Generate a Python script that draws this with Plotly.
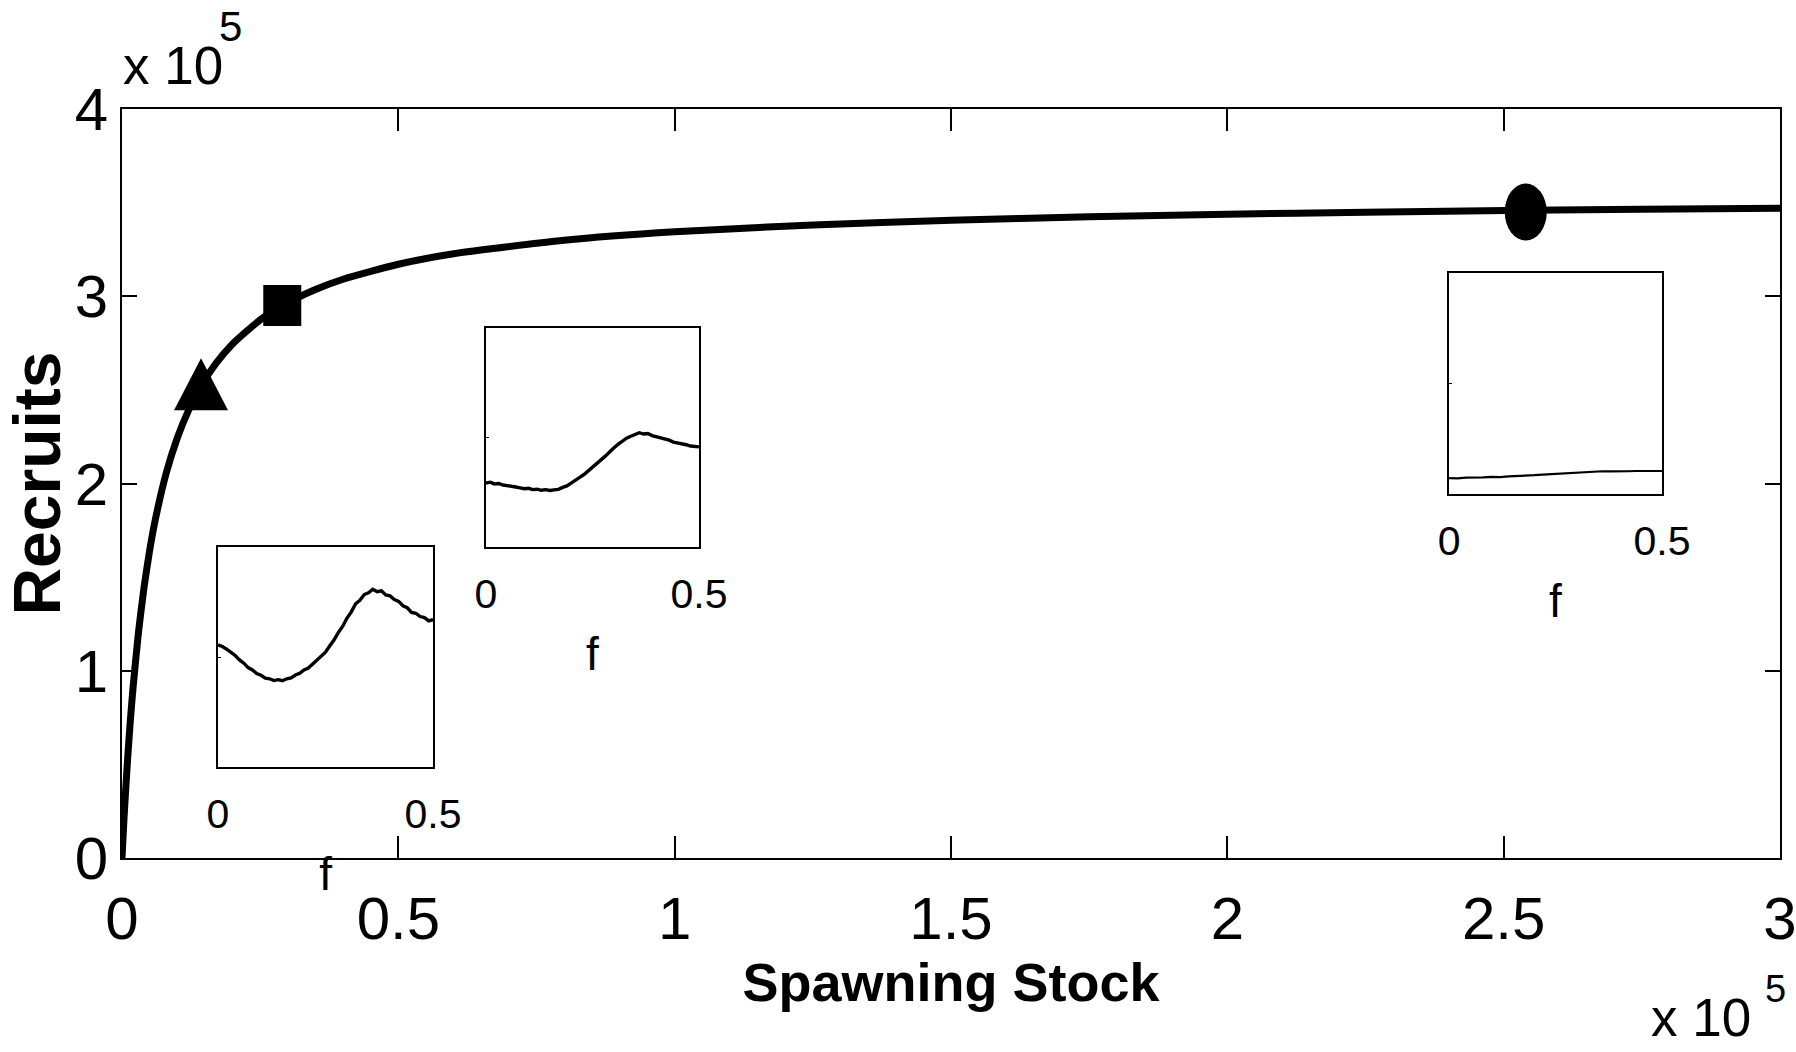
import plotly.graph_objects as go

# Stock-recruitment curve (spawning stock and recruits, both in units of 10^5)
stock = [0, 0.002, 0.005, 0.01, 0.015, 0.02, 0.03, 0.04, 0.05, 0.06, 0.08, 0.10,
         0.12, 0.143, 0.17, 0.20, 0.25, 0.29, 0.35, 0.40, 0.50, 0.60, 0.80, 1.00,
         1.25, 1.50, 1.75, 2.00, 2.25, 2.54, 2.75, 3.00]
recruits = [0, 0.118, 0.282, 0.522, 0.730, 0.910, 1.210, 1.448, 1.642, 1.803, 2.055, 2.243,
            2.388, 2.520, 2.641, 2.745, 2.874, 2.950, 3.036, 3.091, 3.171, 3.227, 3.299, 3.344,
            3.381, 3.406, 3.424, 3.438, 3.449, 3.459, 3.464, 3.470]

# Highlighted operating points: triangle, square, circle
mark_stock = [0.143, 0.29, 2.54]
mark_recruits = [2.53, 2.95, 3.45]

# Spectra shown in the three insets (frequency f, relative power)
freq_a = [round(0.01 * i, 2) for i in range(51)]
power_a = [0.555, 0.548, 0.536, 0.522, 0.507, 0.487, 0.472, 0.452, 0.441, 0.425,
           0.417, 0.404, 0.401, 0.393, 0.397, 0.392, 0.401, 0.405, 0.418, 0.426,
           0.441, 0.450, 0.468, 0.481, 0.503, 0.522, 0.551, 0.578, 0.612, 0.640,
           0.677, 0.705, 0.742, 0.758, 0.784, 0.792, 0.808, 0.797, 0.801, 0.782,
           0.778, 0.761, 0.753, 0.733, 0.724, 0.703, 0.699, 0.684, 0.679, 0.664, 0.670]

freq_b = [round(0.01 * i, 2) for i in range(51)]
power_b = [0.292, 0.296, 0.288, 0.290, 0.283, 0.281, 0.276, 0.274, 0.270, 0.266,
           0.268, 0.262, 0.264, 0.259, 0.262, 0.258, 0.261, 0.263, 0.272, 0.279,
           0.292, 0.303, 0.318, 0.331, 0.349, 0.362, 0.381, 0.398, 0.415, 0.436,
           0.452, 0.469, 0.483, 0.497, 0.506, 0.515, 0.522, 0.516, 0.518, 0.509,
           0.504, 0.498, 0.493, 0.488, 0.479, 0.476, 0.470, 0.467, 0.461, 0.458, 0.457]

freq_c = [round(0.02 * i, 2) for i in range(26)]
power_c = [0.072, 0.071, 0.074, 0.073, 0.075, 0.077, 0.076, 0.080, 0.081, 0.084,
           0.085, 0.088, 0.090, 0.093, 0.095, 0.097, 0.100, 0.101, 0.103, 0.102,
           0.104, 0.103, 0.104, 0.105, 0.104, 0.104]

x_ticks = [0, 0.5, 1, 1.5, 2, 2.5, 3]
x_ticktext = ["0", "0.5", "1", "1.5", "2", "2.5", "3"]
y_ticks = [0, 1, 2, 3, 4]
y_ticktext = ["0", "1", "2", "3", "4"]
f_ticks = [0, 0.5]
f_ticktext = ["0", "0.5"]

FONT = "Liberation Sans, Arial, sans-serif"

fig = go.Figure()

fig.add_trace(go.Scatter(x=stock, y=recruits, mode="lines",
                         line=dict(color="black", width=7, shape="spline", smoothing=0.6),
                         xaxis="x", yaxis="y", showlegend=False, hoverinfo="skip"))

fig.add_trace(go.Scatter(x=freq_a, y=power_a, mode="lines",
                         line=dict(color="black", width=3.4),
                         xaxis="x2", yaxis="y2", showlegend=False))
fig.add_trace(go.Scatter(x=freq_b, y=power_b, mode="lines",
                         line=dict(color="black", width=3.4),
                         xaxis="x3", yaxis="y3", showlegend=False))
fig.add_trace(go.Scatter(x=freq_c, y=power_c, mode="lines",
                         line=dict(color="black", width=2.2),
                         xaxis="x4", yaxis="y4", showlegend=False))

# Markers drawn as pixel-sized shapes anchored on the data points
tri_path = "M-27,-26 L27,-26 L0,26 Z"
fig.add_shape(type="path", path=tri_path, xref="x", yref="y",
              xsizemode="pixel", ysizemode="pixel",
              xanchor=mark_stock[0], yanchor=mark_recruits[0],
              fillcolor="black", line=dict(width=0))
fig.add_shape(type="rect", xref="x", yref="y", xsizemode="pixel", ysizemode="pixel",
              xanchor=mark_stock[1], yanchor=mark_recruits[1],
              x0=-19, x1=19, y0=-20.5, y1=20.5,
              fillcolor="black", line=dict(width=0))
fig.add_shape(type="circle", xref="x", yref="y", xsizemode="pixel", ysizemode="pixel",
              xanchor=mark_stock[2], yanchor=mark_recruits[2],
              x0=-21, x1=21, y0=-28.5, y1=28.5,
              fillcolor="black", line=dict(width=0))

main_axis = dict(showline=True, linecolor="black", linewidth=2, mirror="ticks",
                 ticks="inside", tickcolor="black", tickwidth=1.5,
                 showgrid=False, zeroline=False, automargin=False,
                 ticklabeloverflow="allow",
                 tickfont=dict(family=FONT, size=60, color="black"))

fig.update_layout(
    width=1796, height=1052,
    margin=dict(l=122, r=16, t=109, b=194),
    paper_bgcolor="white", plot_bgcolor="white",
    font=dict(family=FONT, color="black"),
    xaxis=dict(main_axis, domain=[0, 1], range=[0, 3], tickvals=x_ticks, ticktext=x_ticktext,
               ticklen=22, ticklabelstandoff=7,
               title=dict(text="<b>Spawning Stock</b>", standoff=10,
                          font=dict(family=FONT, size=54, color="black"))),
    yaxis=dict(main_axis, domain=[0, 1], range=[0, 4], tickvals=y_ticks, ticktext=y_ticktext,
               ticklen=15, ticklabelstandoff=0,
               title=dict(text="<b>Recruits</b>", standoff=25,
                          font=dict(family=FONT, size=66, color="black"))),
)

inset_axis = dict(showline=True, linecolor="black", linewidth=2, mirror=True,
                  showgrid=False, zeroline=False, fixedrange=True, automargin=False)
insets = [
    ("x2", "y2", [0.0579, 0.1876], [0.1215, 0.4152]),
    ("x3", "y3", [0.2195, 0.3480], [0.4152, 0.7076]),
    ("x4", "y4", [0.8004, 0.9288], [0.4860, 0.7810]),
]
for xa, ya, xdom, ydom in insets:
    xkey = "xaxis" + xa[1:]
    ykey = "yaxis" + ya[1:]
    fig.update_layout({
        xkey: dict(inset_axis, domain=xdom, anchor=ya, range=[0, 0.5],
                   tickvals=f_ticks, ticktext=f_ticktext, ticks="",
                   ticklabelstandoff=10, ticklabeloverflow="allow",
                   tickfont=dict(family=FONT, size=41, color="black"),
                   title=dict(text="f", standoff=22,
                              font=dict(family=FONT, size=46, color="black"))),
        ykey: dict(inset_axis, domain=ydom, anchor=xa, range=[0, 1],
                   tickvals=[0.5], showticklabels=False, ticks="inside",
                   ticklen=3, tickwidth=1, tickcolor="black"),
    })

# Scale factor labels ("x 10" with a raised exponent) for both main axes
scale_font = dict(family=FONT, size=53, color="black")
fig.add_annotation(text="x 10", xref="paper", yref="paper",
                   x=0, y=1.0587, xanchor="left", yanchor="middle", xshift=-1,
                   showarrow=False, font=scale_font)
fig.add_annotation(text="5", xref="paper", yref="paper",
                   x=0.0575, y=1.1095, xanchor="left", yanchor="middle",
                   showarrow=False, font=dict(family=FONT, size=42, color="black"))
fig.add_annotation(text="x 10", xref="paper", yref="paper",
                   x=0.9837, y=-0.2123, xanchor="right", yanchor="middle",
                   showarrow=False, font=scale_font)
fig.add_annotation(text="5", xref="paper", yref="paper",
                   x=0.9900, y=-0.1749, xanchor="left", yanchor="middle",
                   showarrow=False, font=dict(family=FONT, size=38, color="black"))

fig.write_html("out.html")
